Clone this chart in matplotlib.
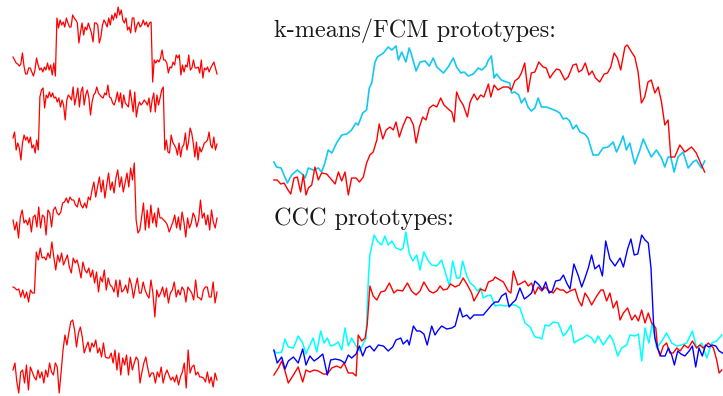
import numpy as np
import matplotlib
matplotlib.use("Agg")
import matplotlib.pyplot as plt

# ---- left column: five sample series (heights) ----
s1 = ([25, 22, 19, 18, 16, 18, 29, 16, 8, 8, 14, 14, 10, 6, 12, 24, 17, 12, 14, 10, 15, 12, 19, 12, 17, 7, 19, 6]
      + [64, 54, 62, 57, 60, 55, 64, 59, 55, 55, 67, 64, 62, 59, 39, 50, 59, 47, 55, 52, 59, 54, 49, 40, 59, 59, 57,
         39, 45, 57, 62, 59, 55, 64, 57, 67, 62, 69, 64, 75, 67, 72, 62, 59, 64, 52, 55, 49, 64, 64, 50, 57, 60, 55,
         57, 62, 57, 60, 55, 59, 60]
      + [0, 22, 19, 22, 20, 24, 32, 22, 22, 19, 9, 15, 14, 20, 17, 27, 24, 27, 7, 17, 10, 17, 15, 27, 12, 14, 22, 14,
         14, 15, 9, 22, 4, 14, 12, 15, 10, 14, 17, 20, 14, 8])

s2 = ([24, 30, 12, 19, 14, 2, 19, 27, 22, 25, 19, 25, 14, 17, 9, 22, 12]
      + [65, 72, 74, 54, 67, 64, 70, 65, 69, 64, 65, 60, 64, 55, 62, 57, 42, 62, 67, 65, 62, 75, 57, 65, 74, 55, 70,
         75, 57, 67, 72, 64, 47, 60, 67, 69, 75, 69, 67, 65, 64, 69, 67, 77, 65, 64, 59, 57, 62, 70, 60, 69, 54, 67,
         59, 57, 55, 72, 62, 50, 70, 45, 55, 60, 57, 59, 62, 60, 57, 64, 50, 62, 69, 50, 67, 57, 64, 72, 75]
      + [12, 22, 10, 9, 27, 20, 17, 14, 7, 19, 5, 15, 17, 29, 12, 20, 34, 29, 19, 5, 20, 2, 15, 10, 14, 19, 20, 22,
         30, 17, 14, 25, 12, 18])

s3 = ([20, 10, 18, 2, 23, 30, 17, 20, 15, 22, 8, 23, 25, 13, 33, 12, 25, 23, 5, 30, 27, 13, 30, 33, 27, 25, 28, 37,
       38, 42, 37, 43, 40, 40, 35, 33, 42, 35, 32, 37, 32, 43]
      + [40, 50, 58, 43, 53, 63, 48, 60, 42, 55, 67, 50, 58, 47, 62, 70, 53, 63, 48, 57, 67, 53, 72, 60, 77]
      + [20, 7, 10, 23, 37, 10, 30, 12, 35, 17, 27, 13, 32, 22, 22, 20, 18, 15, 8, 13, 18, 25, 12, 23, 10, 28, 18, 3,
         22, 12, 17, 27, 23, 13, 20, 40, 22, 27, 15, 25, 10, 30, 18, 12, 22])

s4 = ([31, 30, 28, 29, 21, 28, 20, 26, 16, 28, 25, 25]
      + [66, 58, 70, 60, 61, 58, 65, 60, 76, 61, 48, 63, 56, 65, 53, 58, 63, 51, 45, 60, 55, 58, 50, 40, 56, 48, 45,
         50, 41, 48, 35, 46, 26, 41, 36, 48, 28, 40, 33, 31, 26, 38, 21, 38, 26, 28, 33, 25, 40, 33, 20, 31, 40, 25,
         25, 36, 28, 23, 20, 38, 25, 1, 28, 21, 25, 31, 21, 30, 15, 25, 28, 36, 21, 28, 23, 31, 28, 16, 31, 28, 25,
         18, 38, 21, 20, 18, 28, 31, 31, 21, 21, 36, 15, 26])

s5 = ([26, 33, 14, 3, 24, 26, 13, 31, 6, 29, 24, 19, 16, 26, 18, 24, 13, 26, 19, 33, 24, 21, 33, 29, 3]
      + [24, 46, 61, 51, 63, 74, 76, 66, 49, 63, 69, 59, 43, 49, 54, 44, 53, 49, 56, 43, 48, 39, 53, 39, 38, 38, 43,
         33, 46, 26, 43, 21, 38, 31, 41, 21, 39, 26, 33, 39, 36, 13, 24, 33, 39, 28, 19, 23, 23, 13, 24, 19, 29, 13,
         21, 26, 21, 16, 19, 14, 21, 11, 19, 24, 33, 8, 46, 23, 29, 31, 21, 24, 19, 19, 18, 14, 24, 13, 19, 9, 23, 16])

# ---- k-means/FCM prototypes (sample index, value) ----
km_cyan_t = [0.3, 1.2, 2.7, 4.8, 6.2, 8.1, 10.1, 10.7, 11.8, 13.4, 15.1, 16.2, 17.3, 18.4, 19.6, 21.2, 22.9, 24.6,
             26.2, 27.6, 28.4, 29.9, 31.2, 32.1, 32.9, 34.0, 34.8, 36.8, 38.4, 39.6, 41.0, 41.8, 42.9, 44.3, 45.4,
             46.2, 47.7, 49.0, 50.7, 52.1, 53.4, 54.6, 56.8, 58.4, 60.1, 61.2, 62.6, 63.7, 65.1, 66.8, 68.4, 69.6,
             71.0, 71.8, 72.8, 73.7, 74.5, 76.1, 77.8, 78.9, 79.5, 80.6, 81.9, 82.8, 83.9, 85.0, 86.1, 87.3, 88.4,
             89.5, 91.1, 92.8, 94.5, 95.6, 96.7, 97.8, 98.9, 100.0, 101.1, 102.3, 103.9, 105.0, 106.7, 108.4, 110.0,
             111.7, 113.4, 114.5, 115.6, 116.7, 117.8, 118.9, 120.6, 122.3, 123.4, 125.0, 126.1, 127.8, 129.5, 130.6,
             131.7, 132.6, 133.7, 135.0, 136.7, 138.4, 140.0, 141.1, 142.8, 143.9]
km_cyan = [38, 33, 32, 17, 25, 30, 25, 22, 32, 30, 32, 28, 37, 50, 47, 57, 65, 66, 70, 77, 75, 87, 90, 112, 117,
           138, 143, 147, 153, 150, 154, 140, 148, 138, 152, 145, 129, 138, 139, 134, 142, 133, 127, 133, 142, 133,
           127, 128, 124, 126, 132, 130, 134, 140, 144, 122, 126, 120, 118, 117, 107, 108, 105, 97, 102, 93, 89, 92,
           102, 93, 93, 91, 89, 87, 81, 82, 79, 71, 75, 68, 66, 62, 45, 45, 52, 53, 58, 48, 55, 64, 50, 57, 36, 50,
           61, 50, 43, 50, 42, 33, 43, 43, 28, 43, 48, 32, 38, 40, 32, 39]

km_red_t = [0.3, 1.4, 2.6, 3.7, 4.8, 5.9, 7.0, 8.1, 9.2, 10.1, 11.0, 11.8, 12.9, 14.0, 15.1, 16.2, 17.9, 19.6, 20.7,
            21.8, 22.9, 24.0, 25.1, 26.2, 27.7, 28.8, 30.1, 31.2, 32.3, 33.4, 34.6, 35.4, 36.6, 37.7, 39.0, 40.1,
            41.0, 42.1, 43.2, 44.6, 45.7, 46.8, 47.7, 48.8, 49.9, 51.0, 52.1, 53.4, 54.6, 55.9, 57.0, 58.4, 59.6,
            60.4, 61.2, 62.3, 63.4, 64.8, 65.7, 67.0, 68.1, 69.2, 70.3, 71.8, 72.6, 73.7, 75.0, 76.7, 78.4, 79.5,
            80.6, 81.9, 82.8, 83.9, 85.0, 86.1, 87.3, 88.6, 90.0, 91.1, 92.3, 93.4, 94.5, 95.6, 97.3, 98.4, 100.0,
            101.1, 101.9, 103.0, 104.1, 105.3, 106.4, 107.5, 108.9, 110.4, 111.5, 112.6, 113.7, 114.8, 115.9, 117.3,
            118.1, 119.5, 120.6, 121.7, 122.8, 123.9, 125.0, 126.1, 127.3, 128.4, 129.5, 130.6, 131.7, 132.6, 133.9,
            135.6, 137.3, 139.5, 141.1, 142.8, 143.9]
km_red = [20, 20, 16, 17, 11, 6, 22, 23, 8, 25, 5, 12, 15, 33, 20, 27, 26, 20, 16, 28, 19, 28, 5, 22, 22, 18, 23,
          37, 45, 48, 60, 76, 61, 70, 73, 70, 78, 63, 73, 83, 82, 75, 57, 73, 83, 80, 92, 95, 93, 102, 95, 91, 88,
          78, 108, 100, 95, 83, 98, 106, 100, 105, 103, 116, 103, 115, 110, 113, 113, 110, 119, 122, 127, 137, 108,
          127, 128, 138, 133, 132, 122, 127, 131, 130, 120, 123, 135, 136, 128, 130, 137, 125, 129, 122, 118, 126,
          127, 133, 147, 142, 130, 153, 155, 148, 143, 128, 97, 103, 118, 120, 107, 113, 98, 75, 80, 43, 43, 55, 48,
          53, 47, 35, 28]

# ---- CCC prototypes (sample index, value) ----
ccc_cyan_t = [0.3, 1.4, 2.9, 4.0, 5.1, 6.8, 8.4, 9.9, 11.0, 12.3, 13.4, 14.6, 15.9, 17.0, 18.1, 19.2, 20.3, 21.8,
              22.9, 24.0, 25.1, 26.2, 27.7, 28.8, 29.9, 31.0, 31.8, 32.3, 33.7, 34.8, 36.2, 37.3, 38.4, 39.6, 41.0,
              42.6, 43.4, 44.3, 45.4, 46.6, 47.9, 49.0, 50.3, 51.8, 52.9, 54.6, 56.2, 57.3, 58.8, 59.9, 61.2, 62.3,
              63.2, 64.6, 65.7, 67.0, 68.1, 69.2, 70.1, 71.2, 72.6, 74.0, 75.7, 77.3, 79.0, 80.7, 82.3, 84.0, 85.7,
              87.3, 89.0, 89.6, 90.7, 92.0, 93.4, 95.1, 96.8, 98.2, 99.3, 100.4, 101.8, 103.4, 104.6, 106.2, 107.3,
              108.4, 110.1, 112.3, 113.4, 114.9, 116.2, 117.9, 119.0, 120.7, 121.8, 122.9, 124.0, 125.3, 126.4, 127.9,
              129.6, 131.2, 132.9, 134.6, 136.2, 137.9, 139.8, 141.2, 142.9, 144.6, 146.2, 147.9, 149.6]
ccc_cyan = [39, 37, 38, 51, 43, 42, 54, 47, 36, 45, 52, 38, 59, 47, 52, 44, 45, 48, 40, 62, 44, 52, 44, 39, 45, 52,
            112, 135, 155, 149, 145, 154, 145, 149, 142, 140, 142, 158, 137, 129, 135, 120, 138, 129, 125, 124, 130,
            119, 104, 129, 112, 112, 129, 114, 107, 104, 99, 102, 92, 94, 95, 84, 85, 84, 85, 85, 82, 67, 63, 53, 52,
            51, 65, 64, 68, 67, 54, 59, 65, 47, 50, 52, 55, 52, 47, 54, 45, 55, 49, 34, 42, 45, 55, 54, 56, 29, 62,
            47, 67, 42, 49, 57, 47, 44, 45, 47, 59, 42, 47, 32, 47, 49, 55]

ccc_red_t = [0.3, 1.8, 2.9, 4.0, 5.1, 6.8, 8.4, 9.9, 11.0, 12.3, 13.7, 15.1, 16.8, 18.1, 19.6, 21.2, 22.6, 23.7,
             25.1, 26.6, 27.7, 28.4, 29.6, 30.7, 31.4, 32.3, 33.4, 34.6, 35.9, 37.3, 38.8, 40.3, 41.4, 43.2, 44.8,
             46.2, 47.7, 49.0, 50.3, 52.1, 53.4, 54.6, 55.7, 56.8, 58.1, 59.2, 60.7, 62.1, 63.4, 64.8, 66.2, 67.0,
             68.1, 69.2, 70.7, 71.8, 73.4, 74.0, 75.1, 76.8, 78.4, 79.3, 80.1, 81.6, 82.9, 84.0, 85.1, 86.2, 87.3,
             88.4, 89.6, 90.7, 92.0, 93.4, 94.6, 95.7, 96.8, 97.9, 99.0, 100.7, 101.8, 102.9, 104.0, 105.1, 106.2,
             107.9, 109.3, 110.1, 111.2, 112.3, 113.4, 114.6, 115.7, 116.8, 118.2, 119.6, 120.7, 121.8, 122.9, 124.0,
             125.1, 126.2, 127.6, 128.2, 129.0, 130.1, 131.2, 132.3, 133.4, 134.6, 135.7, 137.1, 138.4, 139.8, 141.2,
             142.3, 143.4, 145.1, 146.8, 147.9, 148.7, 149.6]
ccc_red = [15, 22, 29, 19, 7, 15, 23, 8, 20, 18, 20, 19, 16, 16, 22, 24, 22, 27, 17, 17, 14, 55, 49, 52, 65, 104,
           94, 90, 98, 99, 107, 97, 100, 99, 107, 99, 95, 99, 108, 99, 97, 99, 104, 100, 101, 106, 103, 105, 112,
           105, 97, 89, 95, 101, 99, 108, 110, 113, 111, 108, 99, 97, 119, 105, 107, 109, 104, 107, 96, 103, 99, 103,
           99, 97, 102, 100, 100, 97, 99, 101, 90, 84, 97, 92, 85, 94, 100, 100, 89, 97, 82, 89, 70, 77, 82, 70, 75,
           69, 80, 67, 77, 67, 62, 42, 34, 44, 47, 37, 37, 42, 39, 45, 42, 49, 42, 45, 42, 47, 42, 30, 17, 20]

ccc_blue_t = [0.3, 1.4, 2.9, 4.0, 5.1, 6.8, 8.4, 9.9, 11.0, 12.3, 13.7, 15.1, 16.6, 18.1, 19.2, 20.7, 22.3, 24.0,
              25.1, 26.2, 27.7, 28.8, 29.9, 31.0, 32.3, 33.7, 35.1, 36.8, 38.4, 39.9, 41.0, 42.6, 43.4, 44.8, 45.4,
              46.8, 47.9, 49.0, 50.3, 51.4, 52.9, 54.0, 55.1, 56.2, 57.9, 59.6, 60.7, 62.3, 63.2, 64.6, 65.7, 67.0,
              68.4, 70.1, 71.2, 72.9, 74.0, 75.1, 76.2, 77.6, 78.7, 79.8, 80.9, 82.3, 83.8, 85.1, 86.2, 87.3, 88.7,
              89.8, 90.9, 92.0, 93.1, 94.2, 95.7, 96.8, 97.9, 99.0, 100.3, 101.8, 102.9, 104.0, 105.1, 106.2, 107.3,
              108.7, 109.8, 110.9, 112.3, 114.0, 115.7, 116.8, 118.2, 119.3, 120.4, 121.6, 122.9, 124.0, 125.1, 126.0,
              126.8, 127.3, 128.2, 129.3, 130.7, 131.8, 132.9, 133.8, 134.9, 136.0, 137.3, 138.7, 139.8, 140.9, 142.0,
              143.1, 144.2, 145.3, 146.4, 147.6, 148.7, 149.8]
ccc_blue = [40, 27, 33, 21, 29, 33, 27, 41, 25, 34, 29, 32, 36, 15, 30, 31, 30, 27, 35, 32, 36, 44, 34, 42, 44, 39,
            45, 44, 39, 43, 50, 52, 46, 50, 45, 64, 59, 59, 56, 45, 64, 55, 60, 64, 61, 62, 64, 82, 73, 75, 71, 75,
            75, 75, 79, 85, 88, 88, 94, 97, 83, 87, 90, 102, 91, 94, 97, 109, 105, 100, 108, 97, 99, 109, 110, 115,
            107, 101, 126, 114, 103, 112, 122, 135, 121, 125, 114, 149, 131, 124, 132, 123, 141, 151, 135, 136, 155,
            150, 147, 122, 69, 52, 42, 34, 34, 42, 35, 25, 39, 36, 34, 39, 44, 23, 42, 34, 45, 43, 45, 44, 39, 37]

W, H = 723, 396
fig = plt.figure(figsize=(W / 100, H / 100), dpi=100)


def box(x0, y_bottom, width, height):
    # axes placed by pixel box (top-left origin, like the picture)
    ax = fig.add_axes([x0 / W, 1 - y_bottom / H, width / W, height / H])
    ax.set_axis_off()
    return ax


# left column
for series, bottom in [(s1, 82), (s2, 162), (s3, 240), (s4, 318), (s5, 396)]:
    ax = box(13, bottom, 204, 78)
    ax.plot(np.arange(len(series)), series, color="red", lw=0.9, clip_on=False)
    ax.set_xlim(0, len(series) - 1)
    ax.set_ylim(0, 78)

# k-means/FCM panel
ax = box(273, 200, 432, 160)
ax.plot(km_cyan_t, km_cyan, color="#14c8f5", lw=1.2, clip_on=False)
ax.plot(km_red_t, km_red, color="red", lw=1.0, clip_on=False)
ax.set_xlim(0, 144)
ax.set_ylim(0, 160)

# CCC panel
ax = box(273, 390, 450, 160)
ax.plot(ccc_cyan_t, ccc_cyan, color="cyan", lw=1.1, clip_on=False)
ax.plot(ccc_red_t, ccc_red, color="red", lw=1.0, clip_on=False)
ax.plot(ccc_blue_t, ccc_blue, color="blue", lw=1.0, clip_on=False)
ax.set_xlim(0, 150)
ax.set_ylim(0, 160)

fig.text(274 / W, 1 - 37 / H, "k-means/FCM prototypes:", family="cmr10", fontsize=17.5, color="#1a1a1a")
fig.text(274 / W, 1 - 225 / H, "CCC prototypes:", family="cmr10", fontsize=17.5, color="#1a1a1a")

fig.savefig("out.png", dpi=100)
